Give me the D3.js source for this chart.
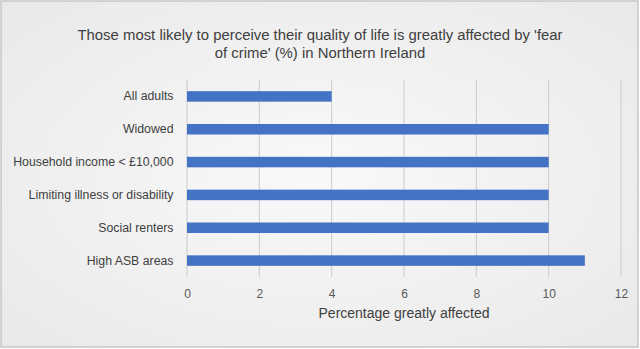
<!DOCTYPE html>
<meta charset="utf-8">
<script src="https://d3js.org/d3.v7.min.js"></script>
<style>
  body { margin: 0; }
  text { font-family: "Liberation Sans", Arial, sans-serif; }
</style>
<div id="viz"></div>
<script>
// groups, top to bottom, and their share greatly affected (%)
var groups = ["All adults", "Widowed", "Household income < £10,000",
  "Limiting illness or disability", "Social renters", "High ASB areas"];
var values = [4, 10, 10, 10, 10, 11];
var xTicks = [0, 2, 4, 6, 8, 10, 12];

var W = 640, H = 349;
var margin = {top: 80, right: 19, bottom: 72, left: 187};
var width = W - margin.left - margin.right,
    height = H - margin.top - margin.bottom;

var svg = d3.select("#viz").append("svg")
  .attr("width", W)
  .attr("height", H);

// soft radial background
var grad = svg.append("defs").append("radialGradient")
  .attr("id", "bg").attr("cx", "50%").attr("cy", "50%").attr("r", "70%");
grad.append("stop").attr("offset", "0%").attr("stop-color", "#f9f9f9");
grad.append("stop").attr("offset", "100%").attr("stop-color", "#e9e9e9");

svg.append("rect")
  .attr("x", 1).attr("y", 1).attr("width", W - 3).attr("height", H - 3)
  .attr("fill", "url(#bg)")
  .attr("stroke", "#c6c6c6").attr("stroke-width", 1.5);

// title
var title = svg.append("text")
  .attr("text-anchor", "middle")
  .attr("fill", "#404040")
  .style("font-size", "14.9px");
title.append("tspan").attr("x", 320).attr("y", 40)
  .text("Those most likely to perceive their quality of life is greatly affected by 'fear");
title.append("tspan").attr("x", 320).attr("y", 58)
  .text("of crime' (%) in Northern Ireland");

var g = svg.append("g")
  .attr("transform", "translate(" + margin.left + "," + margin.top + ")");

var x = d3.scaleLinear().domain([0, 12]).range([0, width]);
var y = d3.scaleBand().domain(groups).range([0, height]).paddingInner(0.68).paddingOuter(0.34);

// vertical gridlines
g.append("g")
  .selectAll("line")
  .data(xTicks)
  .join("line")
  .attr("x1", function(d) { return x(d); })
  .attr("x2", function(d) { return x(d); })
  .attr("y1", 0).attr("y2", height)
  .attr("stroke", "#cbcbcb").attr("stroke-width", 1);

// x axis labels
var xAxis = g.append("g")
  .attr("transform", "translate(0," + height + ")")
  .call(d3.axisBottom(x).tickValues(xTicks).tickSize(0).tickPadding(12));
xAxis.select(".domain").remove();
xAxis.selectAll("text")
  .attr("fill", "#595959")
  .style("font-size", "12px");

// category labels
var yAxis = g.append("g")
  .call(d3.axisLeft(y).tickSize(0).tickPadding(13.5));
yAxis.select(".domain").remove();
yAxis.selectAll("text")
  .attr("fill", "#404040")
  .style("font-size", "12.3px");

// bars
g.selectAll(".bar")
  .data(groups)
  .join("rect")
  .attr("class", "bar")
  .attr("x", x(0))
  .attr("y", function(d) { return y(d); })
  .attr("width", function(d, i) { return x(values[i]) - x(0); })
  .attr("height", y.bandwidth())
  .attr("fill", "#4472c4");

// axis title
svg.append("text")
  .attr("x", margin.left + width / 2)
  .attr("y", 318)
  .attr("text-anchor", "middle")
  .attr("fill", "#404040")
  .style("font-size", "14px")
  .text("Percentage greatly affected");
</script>
